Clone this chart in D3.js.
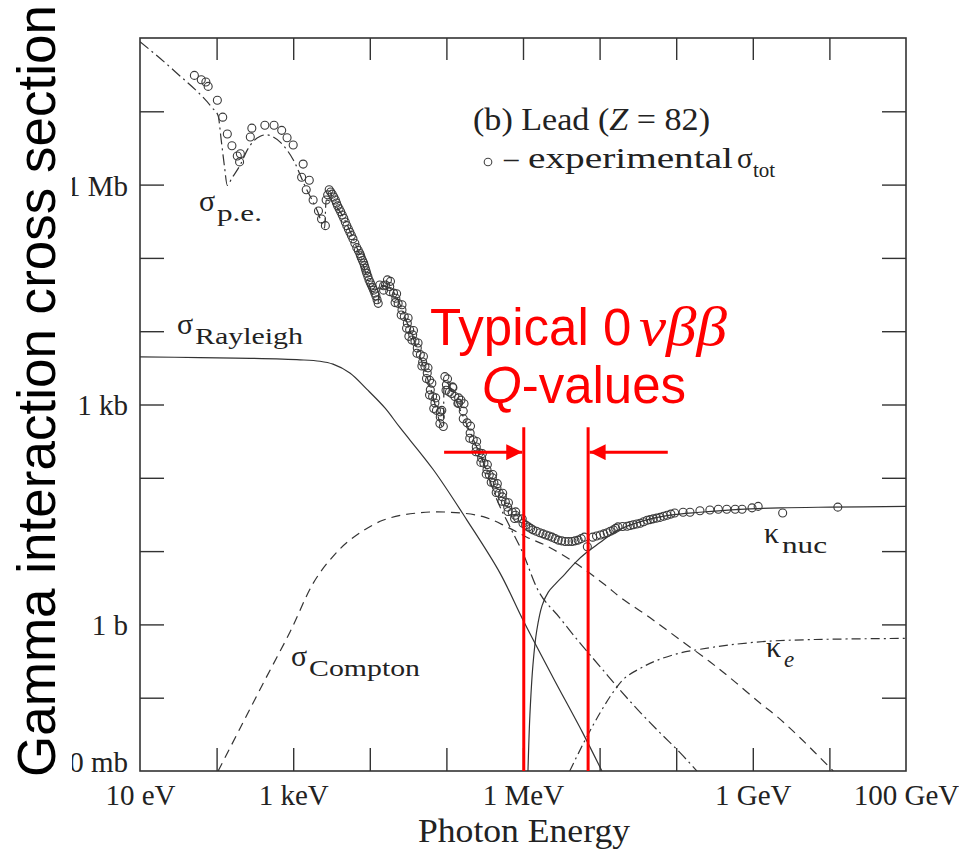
<!DOCTYPE html>
<html><head><meta charset="utf-8">
<script src="https://cdn.jsdelivr.net/npm/d3@7"></script>
<style>body{margin:0;background:#fff} svg{display:block}</style>
</head><body>
<svg id="c" width="959" height="849"></svg>
<script>
// ---- Data (log10 of photon energy in eV, log10 of cross section in barns) ----
const xTickLabels = [{v:1,t:"10 eV"},{v:3,t:"1 keV"},{v:6,t:"1 MeV"},{v:9,t:"1 GeV"},{v:11,t:"100 GeV"}];
const yTickLabels = [{v:6,t:"1 Mb"},{v:3,t:"1 kb"},{v:0,t:"1 b"},{v:-2,t:"10 mb"}];

const expLogE = [1.71,1.80,1.86,1.89,2.01,2.08,2.14,2.20,2.27,2.31,
 2.30,2.46,2.44,2.63,2.75,2.85,2.92,3.00,3.13,3.11,
 3.21,3.17,3.26,3.33,3.37,3.42,3.43,3.47,3.51,3.55,
 3.58,3.62,3.66,3.70,3.74,3.78,3.83,3.87,3.89,3.92,
 3.94,3.96,3.99,4.02,4.05,4.08,4.11,4.13,4.18,4.23,
 4.26,4.31,4.34,4.37,4.42,4.45,4.49,4.52,4.51,4.56,
 4.59,4.62,4.66,4.69,4.72,4.75,4.78,4.79,4.82,4.85,
 4.87,4.92,4.96,4.94,4.98,5.00,5.04,5.08,5.11,5.16,
 5.19,5.22,5.27,5.31,5.35,5.39,5.43,5.46,5.49,5.53,
 5.56,5.60,5.62,5.66,5.69,5.73,5.77,5.80,5.86,5.90,
 5.93,6.00,6.07,6.13,6.22,6.30,6.38,6.46,6.55,6.64,
 6.72,6.80,6.84,6.91,7.01,7.10,7.18,7.24,7.36,7.44,
 7.53,7.62,7.70,7.79,7.88,7.98,8.09,8.18,8.31,8.44,
 8.55,8.66,8.77,8.86,8.99,9.07,9.39,10.11];
const expLogS = [7.49,7.43,7.40,7.34,7.15,6.92,6.69,6.53,6.39,6.42,
 6.31,6.77,6.65,6.81,6.81,6.74,6.64,6.54,6.28,6.10,
 6.06,5.93,5.79,5.64,5.53,5.44,5.79,5.93,5.87,5.79,
 5.71,5.63,5.54,5.44,5.35,5.26,5.14,5.06,5.00,4.93,
 4.86,4.79,4.70,4.63,4.56,4.48,4.38,4.63,4.56,4.70,
 4.61,4.52,4.45,4.38,4.29,4.20,4.11,4.02,3.93,3.95,
 3.86,3.77,3.68,3.58,3.52,3.43,3.33,3.20,3.11,3.02,
 2.92,2.83,2.70,2.92,3.38,3.27,3.17,3.24,3.11,3.02,
 3.06,2.91,2.75,2.61,2.52,2.42,2.34,2.27,2.20,2.11,
 2.04,2.00,1.93,1.86,1.79,1.74,1.67,1.60,1.53,1.49,
 1.45,1.38,1.33,1.29,1.25,1.22,1.19,1.15,1.13,1.13,
 1.15,1.19,1.06,1.19,1.22,1.25,1.29,1.33,1.34,1.36,
 1.38,1.42,1.44,1.46,1.49,1.52,1.53,1.53,1.55,1.56,
 1.57,1.57,1.57,1.57,1.59,1.61,1.52,1.60];
// additional measurements in the dense 100 eV - 100 MeV band
const expLogE2 = [3.45,3.49,3.53,3.565,3.60,3.64,3.68,3.72,3.76,3.805,3.85,3.88,3.905,3.93,3.95,3.975,4.005,4.035,4.065,4.095,
 4.18,4.205,4.27,4.26,4.35,4.33,4.42,4.41,4.50,4.48,4.57,4.55,4.63,4.615,4.70,4.68,4.76,4.74,4.81,4.78,4.86,4.835,4.92,4.915,
 5.015,4.995,5.085,5.07,5.16,5.15,5.23,5.22,5.315,5.305,5.395,5.385,5.47,5.45,5.535,5.52,5.605,5.585,5.665,5.65,5.735,5.725,5.81,5.805,5.905,5.89,5.99,
 6.035,6.10,6.175,6.26,6.34,6.42,6.505,6.595,6.68,6.76,6.96,7.055,7.14,7.21,7.30,7.40,7.485,7.575,7.66,7.745,7.835,7.93];
const expLogS2 = [5.86,5.90,5.83,5.75,5.67,5.585,5.49,5.395,5.305,5.20,5.10,5.03,4.965,4.895,4.825,4.745,4.665,4.595,4.52,4.43,
 4.62,4.63,4.68,4.54,4.51,4.39,4.36,4.22,4.18,4.04,4.01,3.88,3.84,3.70,3.655,3.525,3.50,3.355,3.29,3.13,3.09,2.945,2.90,2.74,
 3.35,3.195,3.23,3.15,3.09,3.015,3.01,2.805,2.705,2.54,2.495,2.355,2.33,2.21,2.18,2.05,2.045,1.94,1.92,1.80,1.79,1.68,1.66,1.54,1.535,1.445,1.44,
 1.355,1.31,1.27,1.235,1.205,1.17,1.14,1.13,1.14,1.17,1.205,1.235,1.27,1.31,1.335,1.35,1.37,1.40,1.43,1.45,1.475,1.505];

const rayleighLogE = [1.00,1.78,2.44,3.09,3.35,3.52,3.74,3.96,4.20,4.39,4.83,5.27,5.70,6.00,6.39,6.78,7.03];
const rayleighLogS = [3.65,3.64,3.63,3.61,3.59,3.55,3.43,3.21,2.95,2.69,2.11,1.42,0.70,0.06,-0.72,-1.48,-2.00];

const peLogE = [1.00,1.46,1.94,2.02,2.06,2.10,2.14,2.20,2.31,2.40,2.48,2.57,2.65,2.74,2.83,2.92,3.00,3.15,3.32,3.41,3.43,3.61,3.87,4.11,4.12,4.26,4.53,4.79,4.96,4.97,5.15,5.31,5.50,5.66,5.83,6.00,6.18,6.48,6.74,7.01,7.27,7.53,7.79,8.05,8.27];
const peLogS = [7.95,7.54,7.05,6.94,6.61,6.27,5.99,6.09,6.27,6.47,6.59,6.66,6.68,6.65,6.58,6.47,6.34,5.99,5.63,5.41,5.79,5.63,5.04,4.38,4.63,4.59,4.00,3.24,2.69,3.33,2.99,2.62,2.16,1.70,1.33,0.97,0.50,0.09,-0.25,-0.58,-0.90,-1.20,-1.48,-1.75,-2.00];

const comptonLogE = [2.02,2.31,2.63,2.96,3.26,3.48,3.74,4.17,4.62,5.05,5.48,5.79,6.05,6.31,6.68,7.07,7.27,7.66,8.05,8.44,8.74,9.09,9.32,9.62,10.05];
const comptonLogS = [-2.00,-1.41,-0.76,-0.10,0.56,0.88,1.15,1.42,1.52,1.53,1.47,1.33,1.19,1.07,0.84,0.54,0.37,0.09,-0.21,-0.51,-0.76,-1.07,-1.26,-1.55,-2.00];

const kNucLogE = [6.065,6.09,6.13,6.18,6.25,6.33,6.43,6.55,6.68,6.84,7.01,7.18,7.36,7.59,7.92,8.31,8.83,9.36,10.01,11.00];
const kNucLogS = [-2.00,-1.24,-0.55,-0.08,0.26,0.44,0.56,0.69,0.84,0.99,1.12,1.25,1.34,1.42,1.49,1.53,1.57,1.59,1.60,1.61];

const kELogE = [6.61,6.81,7.01,7.18,7.33,7.53,7.75,8.05,8.31,8.70,9.19,9.66,10.14,11.00];
const kELogS = [-2.00,-1.58,-1.20,-0.92,-0.73,-0.60,-0.49,-0.39,-0.34,-0.28,-0.23,-0.21,-0.20,-0.19];

const qValueLogE = [6.01, 6.85];      // red vertical markers
const qLineTopLogS = 2.69;
const arrowLogS = 2.35;
const arrowTailLogE = [4.97, 7.89];

// ---- Drawing ----
const svg = d3.select("#c");
const serif = "'Liberation Serif','Times New Roman',serif";
const sans = "'Liberation Sans',Arial,sans-serif";
const ink = "#333";

const x = d3.scaleLinear().domain([1, 11]).range([140, 906]);
const y = d3.scaleLinear().domain([-2, 8]).range([771, 38]);

svg.append("rect").attr("width", 959).attr("height", 849).attr("fill", "#fff");

svg.append("defs").append("clipPath").attr("id", "clip")
  .append("rect").attr("x", 140).attr("y", 38).attr("width", 766).attr("height", 733);

const plot = svg.append("g").attr("clip-path", "url(#clip)");
const zip = (a, b) => a.map((v, i) => [v, b[i]]);
const smooth = d3.line().x(d => x(d[0])).y(d => y(d[1])).curve(d3.curveCatmullRom.alpha(0.5));
const mono = d3.line().x(d => x(d[0])).y(d => y(d[1])).curve(d3.curveMonotoneX);

function curve(E, S, gen, dash) {
  plot.append("path").datum(zip(E, S)).attr("d", gen)
    .attr("fill", "none").attr("stroke", ink).attr("stroke-width", 1.2)
    .attr("stroke-dasharray", dash || null);
}
curve(rayleighLogE, rayleighLogS, smooth);
curve(peLogE, peLogS, mono, "11,4,2,4");
curve(comptonLogE, comptonLogS, smooth, "9,6");
curve(kNucLogE, kNucLogS, smooth);
curve(kELogE, kELogS, smooth, "9,4,2,4");

plot.append("g").selectAll("circle")
  .data(zip(expLogE, expLogS).concat(zip(expLogE2, expLogS2))).join("circle")
  .attr("cx", d => x(d[0])).attr("cy", d => y(d[1])).attr("r", 4)
  .attr("fill", "none").attr("stroke", "#3a3a3a").attr("stroke-width", 1.1);

// axes: inward ticks on all four sides
const decX = d3.range(2, 11), decY = d3.range(-1, 8);
function tickAxis(axis, transform) {
  const g = svg.append("g").attr("transform", transform).call(axis);
  g.select(".domain").remove();
  g.selectAll(".tick line").attr("stroke", ink).attr("stroke-width", 1.4);
  g.selectAll("text").remove();
}
tickAxis(d3.axisBottom(x).tickValues(decX).tickSize(-23), "translate(0,771)");
tickAxis(d3.axisTop(x).tickValues(decX).tickSize(-22), "translate(0,38)");
tickAxis(d3.axisLeft(y).tickValues(decY).tickSize(-24), "translate(140,0)");
tickAxis(d3.axisRight(y).tickValues(decY).tickSize(-24), "translate(906,0)");

svg.append("rect").attr("x", 140).attr("y", 38).attr("width", 766).attr("height", 733)
  .attr("fill", "none").attr("stroke", ink).attr("stroke-width", 1.6);

// tick labels
const xl = svg.append("g").attr("transform", "translate(0,771)")
  .call(d3.axisBottom(x).tickValues(xTickLabels.map(d => d.v)).tickSize(0).tickPadding(12)
    .tickFormat(v => xTickLabels.find(d => d.v === v).t));
xl.select(".domain").remove();
xl.selectAll("text").attr("font-family", serif).attr("font-size", 29).attr("fill", "#222")
  .attr("dy", null).attr("y", 34);
const yl = svg.append("g").attr("transform", "translate(140,0)")
  .call(d3.axisLeft(y).tickValues(yTickLabels.map(d => d.v)).tickSize(0).tickPadding(12)
    .tickFormat(v => yTickLabels.find(d => d.v === v).t));
yl.select(".domain").remove();
yl.selectAll("text").attr("font-family", serif).attr("font-size", 29).attr("fill", "#222")
  .attr("dy", v => v === -2 ? "0.03em" : "0.36em");

svg.append("text").attr("x", 524).attr("y", 842).attr("text-anchor", "middle")
  .attr("font-family", serif).attr("font-size", 33).attr("fill", "#222")
  .attr("textLength", 212).attr("lengthAdjust", "spacingAndGlyphs").text("Photon Energy");

// curve labels
function subLabel(px, py, main, sub, subLen, subItalic) {
  svg.append("text").attr("x", px).attr("y", py).attr("font-family", serif)
    .attr("font-size", 30).attr("fill", "#222").text(main);
  const t = svg.append("text").attr("x", px + 18).attr("y", py + 10)
    .attr("font-family", serif).attr("font-size", 23).attr("fill", "#222")
    .attr("font-style", subItalic ? "italic" : null).text(sub);
  if (subLen) t.attr("textLength", subLen).attr("lengthAdjust", "spacingAndGlyphs");
}
subLabel(199, 211, "σ", "p.e.", 45);
subLabel(177, 334, "σ", "Rayleigh", 108);
subLabel(291, 666, "σ", "Compton", 111);
subLabel(764, 543, "κ", "nuc", 45);
subLabel(766, 657, "κ", "e", null, true);

// legend text
svg.append("text").attr("x", 473).attr("y", 130).attr("font-family", serif).attr("font-size", 31)
  .attr("fill", "#222").attr("textLength", 237).attr("lengthAdjust", "spacingAndGlyphs")
  .call(t => {
    t.append("tspan").text("(b) Lead (");
    t.append("tspan").attr("font-style", "italic").text("Z");
    t.append("tspan").text(" = 82)");
  });
svg.append("circle").attr("cx", 488).attr("cy", 162).attr("r", 3.8)
  .attr("fill", "none").attr("stroke", "#444").attr("stroke-width", 1.1);
svg.append("text").attr("x", 504).attr("y", 168).attr("font-family", serif).attr("font-size", 29)
  .attr("fill", "#222").text("–");
svg.append("text").attr("x", 528).attr("y", 168).attr("font-family", serif).attr("font-size", 30)
  .attr("fill", "#222").attr("textLength", 205).attr("lengthAdjust", "spacingAndGlyphs")
  .text("experimental");
svg.append("text").attr("x", 737).attr("y", 168).attr("font-family", serif).attr("font-size", 29)
  .attr("fill", "#222").text("σ");
svg.append("text").attr("x", 753).attr("y", 177).attr("font-family", serif).attr("font-size", 21)
  .attr("fill", "#222").text("tot");

// red annotation
const red = "#f00";
svg.selectAll(".qline").data(qValueLogE).join("line").attr("class", "qline")
  .attr("x1", d => x(d)).attr("x2", d => x(d)).attr("y1", y(qLineTopLogS)).attr("y2", y(-2))
  .attr("stroke", red).attr("stroke-width", 3);
svg.append("defs").append("marker").attr("id", "ah").attr("viewBox", "0 0 10 10")
  .attr("refX", 10).attr("refY", 5).attr("markerWidth", 16).attr("markerHeight", 16)
  .attr("markerUnits", "userSpaceOnUse").attr("orient", "auto")
  .append("path").attr("d", "M0,0 L10,5 L0,10 Z").attr("fill", red);
arrowTailLogE.forEach((e, i) => {
  const tip = qValueLogE[i] + (i === 0 ? -0.02 : 0.02);
  svg.append("line").attr("x1", x(e)).attr("x2", x(tip)).attr("y1", y(arrowLogS)).attr("y2", y(arrowLogS))
    .attr("stroke", red).attr("stroke-width", 3).attr("marker-end", "url(#ah)");
});
svg.append("text").attr("x", 430).attr("y", 345).attr("fill", red).attr("font-size", 51)
  .attr("font-family", sans).text("Typical 0");
svg.append("text").attr("x", 639).attr("y", 345).attr("fill", red).attr("font-size", 54)
  .attr("font-family", serif).attr("font-style", "italic")
  .attr("textLength", 88).attr("lengthAdjust", "spacingAndGlyphs").text("νββ");
const t2 = svg.append("text").attr("x", 482).attr("y", 403).attr("fill", red).attr("font-size", 51)
  .attr("font-family", sans);
t2.append("tspan").attr("font-style", "italic").text("Q");
t2.append("tspan").text("-values");

// big y title over a white band
svg.append("rect").attr("x", 0).attr("y", 0).attr("width", 72).attr("height", 849).attr("fill", "#fff");
svg.append("text").attr("transform", "translate(55,391) rotate(-90)").attr("text-anchor", "middle")
  .attr("font-family", sans).attr("font-size", 53).attr("fill", "#000")
  .attr("textLength", 772).attr("lengthAdjust", "spacingAndGlyphs")
  .text("Gamma interaction cross section");
</script>
</body></html>
